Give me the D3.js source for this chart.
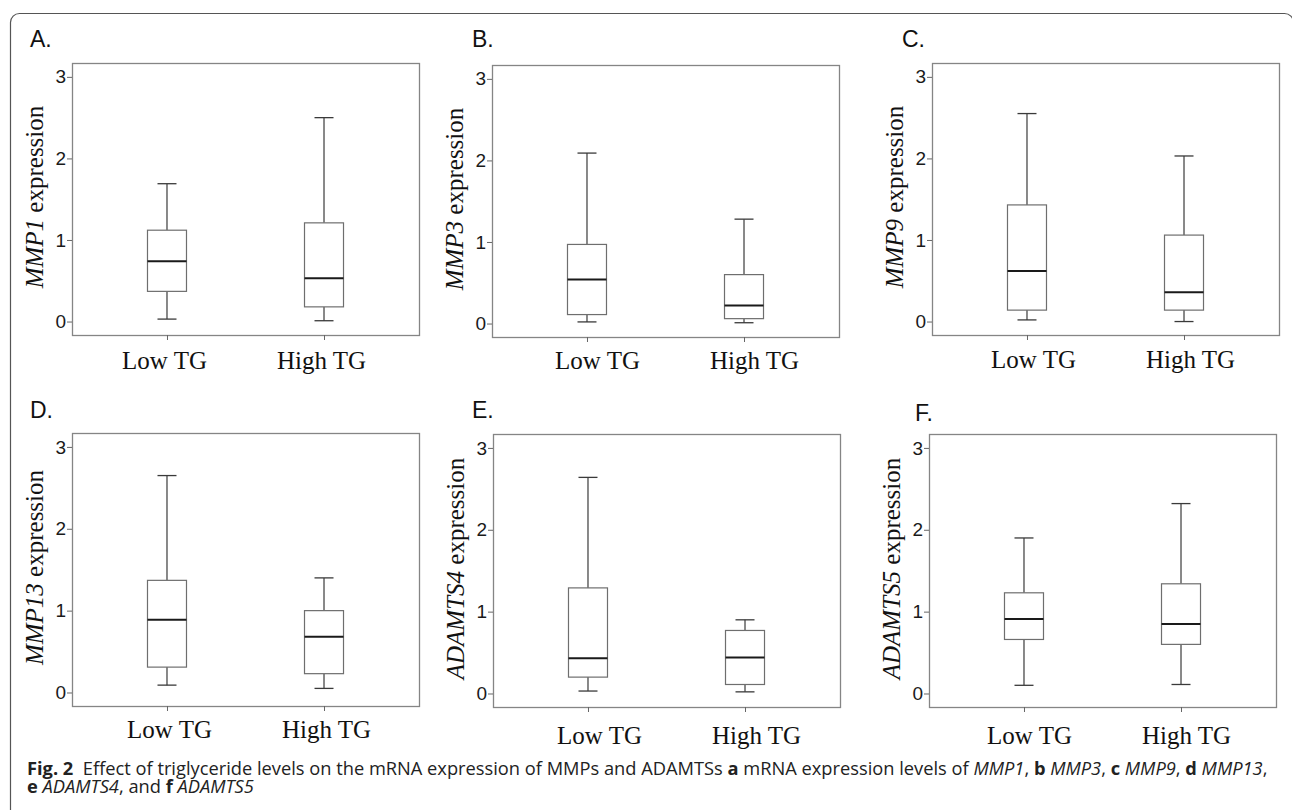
<!DOCTYPE html>
<meta charset="utf-8">
<script src="https://d3js.org/d3.v7.min.js"></script>
<style>
  body { margin: 0; background: #fff; }
</style>
<div id="fig"></div>
<script>

    // categories and gene names
    var groups = ["Low TG", "High TG"];
    var genes = ["MMP1", "MMP3", "MMP9", "MMP13", "ADAMTS4", "ADAMTS5"];
    var letters = ["A.", "B.", "C.", "D.", "E.", "F."];
    var yTicks = [0, 1, 2, 3];

    // box plot stats, one [low, high] pair per gene
    var whiskerMin = [[0.03, 0.01], [0.02, 0.01], [0.02, 0.00], [0.09, 0.05], [0.03, 0.02], [0.10, 0.11]];
    var q1         = [[0.37, 0.18], [0.11, 0.06], [0.14, 0.14], [0.31, 0.23], [0.20, 0.11], [0.66, 0.60]];
    var median     = [[0.74, 0.53], [0.54, 0.22], [0.62, 0.36], [0.89, 0.68], [0.43, 0.44], [0.91, 0.85]];
    var q3         = [[1.12, 1.21], [0.97, 0.60], [1.43, 1.06], [1.37, 1.00], [1.29, 0.77], [1.23, 1.34]];
    var whiskerMax = [[1.69, 2.50], [2.09, 1.28], [2.55, 2.03], [2.65, 1.40], [2.64, 0.90], [1.90, 2.32]];

    // layout of each panel frame (pixels)
    var frames = [
        {x: 72,  y: 63,  h: 272, lx: 30,  ly: 47,  tdx: -3, tdy: 34},
        {x: 492, y: 65,  h: 272, lx: 472, ly: 47,  tdx: 10, tdy: 32},
        {x: 932, y: 63,  h: 272, lx: 902, ly: 47,  tdx: 6,  tdy: 33},
        {x: 72,  y: 433, h: 273, lx: 30,  ly: 418, tdx: 2,  tdy: 32},
        {x: 493, y: 434, h: 273, lx: 472, ly: 418, tdx: 11, tdy: 37},
        {x: 929, y: 434, h: 273, lx: 915, ly: 421, tdx: 5,  tdy: 37}
    ];
    var frameW = 347, boxW = 39, capW = 19;

    var svg = d3.select("#fig").append("svg")
        .attr("width", 1292)
        .attr("height", 810)
        .style("font-family", "'Liberation Serif', 'Times New Roman', serif");

    svg.append("rect").attr("width", 1292).attr("height", 810).attr("fill", "#fff");

    // outer rounded border of the figure
    svg.append("rect")
        .attr("x", 10.5).attr("y", 13.5)
        .attr("width", 1283).attr("height", 900)
        .attr("rx", 9)
        .attr("fill", "none")
        .attr("stroke", "#555")
        .attr("stroke-width", 1.2);

    frames.forEach(function(f, i) {

        var x = d3.scalePoint()
            .domain(groups)
            .range([f.x, f.x + frameW])
            .padding(0.605);

        var y = d3.scaleLinear()
            .domain([-0.165, 3.17])
            .range([f.y + f.h, f.y]);

        var g = svg.append("g");

        // panel letter
        g.append("text")
            .attr("x", f.lx).attr("y", f.ly)
            .style("font-family", "'Liberation Sans', Arial, sans-serif")
            .style("font-size", "23px")
            .attr("fill", "#111")
            .text(letters[i]);

        // frame
        g.append("rect")
            .attr("x", f.x + 0.5).attr("y", f.y + 0.5)
            .attr("width", frameW).attr("height", f.h)
            .attr("fill", "none")
            .attr("stroke", "#858585")
            .attr("stroke-width", 1.3);

        // y axis
        var ya = g.append("g")
            .attr("transform", "translate(" + f.x + ",0)")
            .call(d3.axisLeft(y).tickValues(yTicks).tickSize(5).tickPadding(1).tickFormat(d3.format("d")));
        ya.select(".domain").remove();
        ya.selectAll("line").attr("stroke", "#666");
        ya.selectAll("text")
            .style("font-family", "'Liberation Sans', Arial, sans-serif")
            .style("font-size", "19px")
            .attr("fill", "#1a1a1a");

        // x axis
        var xa = g.append("g")
            .attr("transform", "translate(0," + (f.y + f.h) + ")")
            .call(d3.axisBottom(x).tickSize(5));
        xa.select(".domain").remove();
        xa.selectAll("line").attr("stroke", "#666");
        xa.selectAll("text")
            .attr("y", f.tdy)
            .attr("dy", 0)
            .attr("dx", f.tdx)
            .style("font-family", "'Liberation Serif', 'Times New Roman', serif")
            .style("font-size", "25px")
            .attr("fill", "#111");

        // y label
        var lab = g.append("text")
            .attr("transform", "translate(" + (f.x - 29) + "," + (f.y + f.h / 2 - 2) + ") rotate(-90)")
            .attr("text-anchor", "middle")
            .style("font-size", "25px")
            .attr("fill", "#111");
        lab.append("tspan").style("font-style", "italic").text(genes[i]);
        lab.append("tspan").text(" expression");

        // boxes
        groups.forEach(function(grp, j) {
            var cx = x(grp);
            var lo = whiskerMin[i][j], a = q1[i][j], m = median[i][j], b = q3[i][j], hi = whiskerMax[i][j];

            // whiskers
            g.append("line")
                .attr("x1", cx).attr("x2", cx)
                .attr("y1", y(hi)).attr("y2", y(b))
                .attr("stroke", "#3a3a3a").attr("stroke-width", 1.2);
            g.append("line")
                .attr("x1", cx).attr("x2", cx)
                .attr("y1", y(a)).attr("y2", y(lo))
                .attr("stroke", "#3a3a3a").attr("stroke-width", 1.2);
            g.append("line")
                .attr("x1", cx - capW / 2).attr("x2", cx + capW / 2)
                .attr("y1", y(hi)).attr("y2", y(hi))
                .attr("stroke", "#3a3a3a").attr("stroke-width", 1.3);
            g.append("line")
                .attr("x1", cx - capW / 2).attr("x2", cx + capW / 2)
                .attr("y1", y(lo)).attr("y2", y(lo))
                .attr("stroke", "#3a3a3a").attr("stroke-width", 1.3);

            // box
            g.append("rect")
                .attr("x", cx - boxW / 2).attr("y", y(b))
                .attr("width", boxW).attr("height", y(a) - y(b))
                .attr("fill", "#fff")
                .attr("stroke", "#6e6e6e")
                .attr("stroke-width", 1.2);

            // median
            g.append("line")
                .attr("x1", cx - boxW / 2).attr("x2", cx + boxW / 2)
                .attr("y1", y(m)).attr("y2", y(m))
                .attr("stroke", "#1a1a1a").attr("stroke-width", 2);
        });
    });

    // caption
    var line1 = [
        ["Fig. 2", "b"], ["  Effect of triglyceride levels on the mRNA expression of MMPs and ADAMTSs ", "n"],
        ["a", "b"], [" mRNA expression levels of ", "n"], ["MMP1", "i"], [", ", "n"],
        ["b", "b"], [" ", "n"], ["MMP3", "i"], [", ", "n"],
        ["c", "b"], [" ", "n"], ["MMP9", "i"], [", ", "n"],
        ["d", "b"], [" ", "n"], ["MMP13", "i"], [",", "n"]
    ];
    var line2 = [
        ["e", "b"], [" ", "n"], ["ADAMTS4", "i"], [", and ", "n"],
        ["f", "b"], [" ", "n"], ["ADAMTS5", "i"]
    ];

    var cap = svg.append("g")
        .style("font-family", "'Open Sans', 'Noto Sans', sans-serif")
        .attr("fill", "#222");

    // each run is its own text element, placed one after another
    function captionLine(parts, yPos, size) {
        var cx = 27;
        var runs = [];
        parts.forEach(function(p) {
            var t = cap.append("text")
                .attr("x", cx).attr("y", yPos)
                .style("font-size", size + "px")
                .style("white-space", "pre")
                .style("font-weight", p[1] == "b" ? "bold" : "normal")
                .style("font-style", p[1] == "i" ? "italic" : "normal")
                .text(p[0]);
            cx += t.node().getComputedTextLength();
            runs.push(t);
        });
        return {runs: runs, width: cx - 27};
    }

    // find the size that gives the printed line width
    var probe = captionLine(line1, 775, 16);
    var size = 16 * 1241 / probe.width;
    cap.selectAll("text").remove();
    captionLine(line1, 775, size);
    captionLine(line2, 793, size);

</script>
